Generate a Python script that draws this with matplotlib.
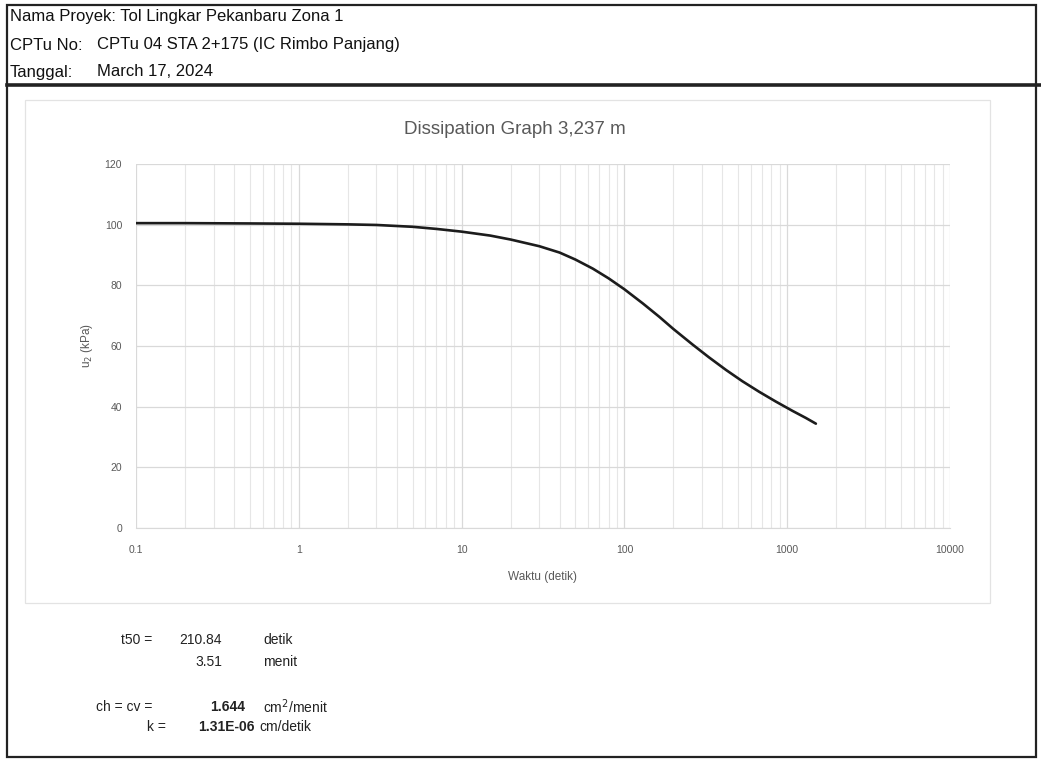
import matplotlib.pyplot as plt
from matplotlib.patches import Rectangle
from matplotlib.lines import Line2D
from matplotlib.ticker import FixedLocator, LogLocator, NullFormatter

# Header info
proyek = 'Tol Lingkar Pekanbaru Zona 1'
cptu_no = 'CPTu 04 STA 2+175 (IC Rimbo Panjang)'
tanggal = 'March 17, 2024'
judul = 'Dissipation Graph 3,237 m'

# Dissipation curve: waktu (detik) vs u2 (kPa)
waktu = [0.1, 0.2, 0.5, 1, 2, 3, 5, 7, 10, 15, 20, 30, 40, 50, 64, 80,
         100, 130, 164, 200, 262, 330, 421, 530, 673, 850, 1079, 1300, 1500]
u2 = [100.5, 100.5, 100.4, 100.3, 100.1, 99.9, 99.3, 98.6, 97.7, 96.4,
      95.1, 92.9, 90.8, 88.5, 85.5, 82.3, 78.7, 74.0, 69.6, 65.6, 60.5,
      56.3, 52.1, 48.4, 44.9, 41.7, 38.6, 36.3, 34.4]

y_ticks = [0, 20, 40, 60, 80, 100, 120]
x_ticks = [0.1, 1, 10, 100, 1000, 10000]
x_labels = ['0.1', '1', '10', '100', '1000', '10000']

# Hasil perhitungan
t50_detik = '210.84'
t50_menit = '3.51'
ch_cv = '1.644'
k_val = '1.31E-06'

W, H = 1041, 760
fig = plt.figure(figsize=(W / 100, H / 100), dpi=100)
fig.patch.set_facecolor('white')


def fx(x):
    return x / W


def fy(y):
    return 1 - y / H


arial = ['Liberation Sans', 'DejaVu Sans']
gray_txt = '#595959'

# frame around the sheet
fig.add_artist(Rectangle((fx(7), fy(757)), fx(1036) - fx(7), fy(5) - fy(757),
                         transform=fig.transFigure, fill=False,
                         edgecolor='#222222', linewidth=1.6))
fig.add_artist(Line2D([fx(7), fx(1041)], [fy(85), fy(85)],
                      transform=fig.transFigure, color='#222222', linewidth=2.6))

# chart area border
fig.add_artist(Rectangle((fx(25), fy(603)), fx(990) - fx(25), fy(100) - fy(603),
                         transform=fig.transFigure, fill=False,
                         edgecolor='#e3e3e3', linewidth=0.9))

# header text
hdr = dict(fontsize=12, family=arial, color='#111111', va='center')
fig.text(fx(10), fy(17), 'Nama Proyek: ' + proyek, **hdr)
fig.text(fx(10), fy(45), 'CPTu No:', **hdr)
fig.text(fx(97), fy(45), cptu_no, **hdr)
fig.text(fx(10), fy(72), 'Tanggal:', **hdr)
fig.text(fx(97), fy(72), tanggal, **hdr)

# plot
ax = fig.add_axes([fx(136), fy(528), fx(950) - fx(136), fy(164) - fy(528)])
ax.plot(waktu, u2, color='#1c1c1c', linewidth=1.9, solid_capstyle='round',
        solid_joinstyle='round')
ax.set_xscale('log')
ax.set_xlim(0.1, 10000)
ax.set_ylim(0, 120)
ax.xaxis.set_major_locator(FixedLocator(x_ticks))
ax.set_xticklabels(x_labels)
ax.xaxis.set_minor_locator(LogLocator(base=10, subs=range(2, 10), numticks=20))
ax.xaxis.set_minor_formatter(NullFormatter())
ax.set_yticks(y_ticks)
ax.grid(True, which='major', color='#d9d9d9', linewidth=0.9)
ax.grid(True, which='minor', axis='x', color='#e6e6e6', linewidth=0.8)
ax.set_axisbelow(True)
for side in ['top', 'right', 'left']:
    ax.spines[side].set_visible(False)
ax.spines['bottom'].set_color('#d9d9d9')
ax.tick_params(which='both', length=0, labelsize=7.5, labelcolor=gray_txt)
ax.tick_params(axis='x', pad=12)
ax.tick_params(axis='y', pad=10)
for lbl in ax.get_xticklabels() + ax.get_yticklabels():
    lbl.set_family(arial)

ax.set_xlabel('Waktu (detik)', fontsize=8.5, color=gray_txt, family=arial, labelpad=12)
ax.set_ylabel('u$_2$ (kPa)', fontsize=8.5, color=gray_txt, family=arial, labelpad=7)

fig.text(fx(515), fy(130), judul, fontsize=13.5, color=gray_txt,
         family=arial, ha='center', va='center')

# calculation summary
res = dict(fontsize=10, family=arial, color='#222222', va='center')
fig.text(fx(152), fy(640), 't50 =', ha='right', **res)
fig.text(fx(222), fy(640), t50_detik, ha='right', **res)
fig.text(fx(263), fy(640), 'detik', ha='left', **res)
fig.text(fx(222), fy(662), t50_menit, ha='right', **res)
fig.text(fx(263), fy(662), 'menit', ha='left', **res)
fig.text(fx(152), fy(707), 'ch = cv =', ha='right', **res)
fig.text(fx(245), fy(707), ch_cv, ha='right', weight='bold', **res)
fig.text(fx(263), fy(707), 'cm$^2$/menit', ha='left', **res)
fig.text(fx(166), fy(727), 'k =', ha='right', **res)
fig.text(fx(255), fy(727), k_val, ha='right', weight='bold', **res)
fig.text(fx(259), fy(727), 'cm/detik', ha='left', **res)

fig.savefig('out.png', dpi=100)
